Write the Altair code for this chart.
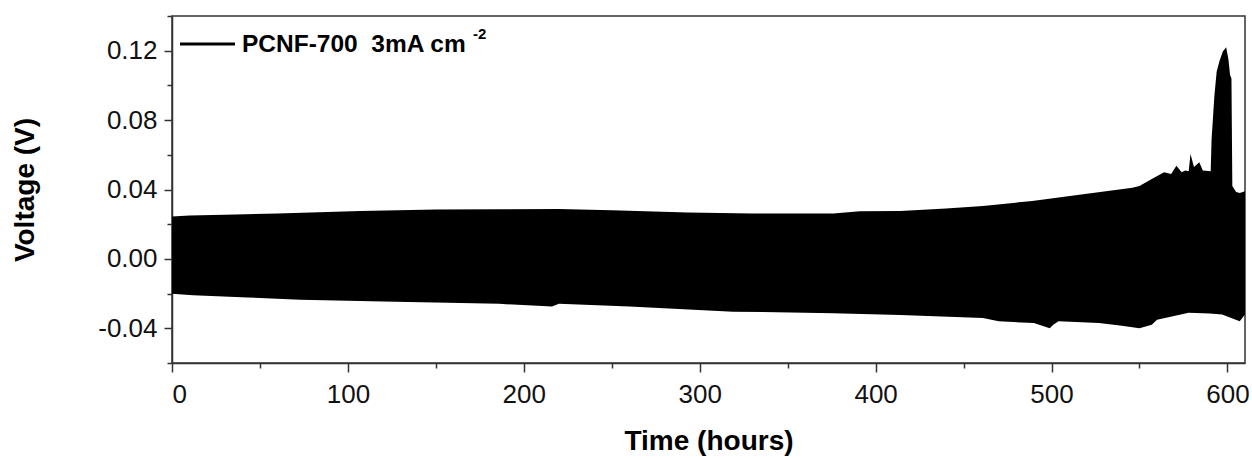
import altair as alt
import pandas as pd

# ---- data (envelope of the voltage profile) ----
upper_time = [0, 10, 30, 60, 107, 150, 186, 220, 250, 293, 330, 376, 391, 414, 440,
              461, 489, 518, 546, 550, 557, 564, 568, 571, 574, 576, 578, 579, 581,
              584, 586, 590.5, 591, 592.6, 593.9, 595.5, 597.4, 599.3, 600.6, 601.5,
              602.3, 602.8, 605, 607, 610]
upper_volt = [0.0245, 0.0250, 0.0255, 0.0262, 0.0276, 0.0285, 0.0286, 0.0288, 0.0280,
              0.0267, 0.0262, 0.0261, 0.0274, 0.0276, 0.0290, 0.0305, 0.0334, 0.0373,
              0.0410, 0.0420, 0.0460, 0.0500, 0.0490, 0.0537, 0.0500, 0.0510, 0.0505,
              0.0605, 0.0530, 0.0557, 0.0510, 0.0505, 0.0690, 0.0940, 0.1080, 0.1140,
              0.1196, 0.1220, 0.1150, 0.1060, 0.1040, 0.0420, 0.0386, 0.0380, 0.0390]

lower_time = [0, 12, 43, 73, 120, 186, 216, 220, 260, 319, 376, 414, 461, 470, 490,
              499, 501, 504, 527, 540, 550, 557, 560, 578, 590, 597, 607, 610]
lower_volt = [-0.0201, -0.0210, -0.0222, -0.0236, -0.0245, -0.0259, -0.0275, -0.0258,
              -0.0275, -0.0304, -0.0313, -0.0323, -0.0340, -0.0360, -0.0370, -0.0400,
              -0.0380, -0.0360, -0.0370, -0.0385, -0.0400, -0.0380, -0.0350, -0.0310,
              -0.0315, -0.0320, -0.0360, -0.0320]

x_major = [0, 100, 200, 300, 400, 500, 600]
x_minor = [50, 150, 250, 350, 450, 550]
y_major = [-0.04, 0.0, 0.04, 0.08, 0.12]
y_minor = [-0.06, -0.02, 0.02, 0.06, 0.10, 0.14]

legend_label = "PCNF-700\u00a0\u00a03mA cm"
legend_sup = "-2"

FONT = "Liberation Sans"
W, H = 1073, 347

up_df = pd.DataFrame({"time": upper_time, "volt": upper_volt})
lo_df = pd.DataFrame({"time": lower_time, "volt": lower_volt})

xscale = alt.Scale(domain=[0, 610], nice=False, zero=False)
yscale = alt.Scale(domain=[-0.06, 0.14], nice=False, zero=False)

ylabel_expr = ("datum.value < 0 ? '-' + format(-datum.value, '.2f') : "
               "format(datum.value, '.2f')")

upper = alt.Chart(up_df).mark_area(color="black", clip=True).encode(
    x=alt.X("time:Q", scale=xscale,
            axis=alt.Axis(orient="bottom", values=x_major, title="Time (hours)",
                          format="d", labelFontSize=26, titleFontSize=28,
                          titleFontWeight="bold", labelFont=FONT, titleFont=FONT,
                          tickSize=9, tickWidth=1.5, domainWidth=1.5,
                          domainColor="#333", tickColor="#333", labelColor="#111",
                          titleColor="black", labelPadding=9, titlePadding=20,
                          grid=False)),
    y=alt.Y("volt:Q", scale=yscale,
            axis=alt.Axis(orient="left", values=y_major, title="Voltage (V)",
                          labelExpr=ylabel_expr, labelFontSize=26, titleFontSize=28,
                          titleFontWeight="bold", labelFont=FONT, titleFont=FONT,
                          tickSize=8, tickWidth=1.5, domainWidth=1.5,
                          domainColor="#333", tickColor="#333", labelColor="#111",
                          titleColor="black", labelPadding=7, titlePadding=58,
                          grid=False)),
    y2=alt.datum(0),
)

lower = alt.Chart(lo_df).mark_area(color="black", clip=True).encode(
    x=alt.X("time:Q", scale=xscale,
            axis=alt.Axis(orient="bottom", values=x_minor, labels=False, title=None,
                          domain=False, tickSize=5, tickWidth=1.5, tickColor="#333",
                          grid=False)),
    y=alt.Y("volt:Q", scale=yscale,
            axis=alt.Axis(orient="left", values=y_minor, labels=False, title=None,
                          domain=False, tickSize=5, tickWidth=1.5, tickColor="#333",
                          grid=False)),
    y2=alt.datum(0),
)

leg_df = pd.DataFrame({"label": [legend_label], "sup": [legend_sup]})
leg_line = alt.Chart(leg_df).mark_rule(color="black", strokeWidth=3).encode(
    x=alt.value(8), x2=alt.value(63), y=alt.value(28))
leg_text = alt.Chart(leg_df).mark_text(
    align="left", baseline="middle", font=FONT, fontSize=24.5, fontWeight="bold",
    color="black").encode(x=alt.value(70), y=alt.value(29), text="label:N")
leg_sup = alt.Chart(leg_df).mark_text(
    align="left", baseline="middle", font=FONT, fontSize=15, fontWeight="bold",
    color="black").encode(x=alt.value(301), y=alt.value(18), text="sup:N")

chart = alt.layer(upper, lower, leg_line, leg_text, leg_sup).resolve_axis(
    x="independent", y="independent"
).properties(
    width=W, height=H,
    autosize=alt.AutoSizeParams(type="none"),
    padding={"left": 172, "top": 16, "right": 7, "bottom": 95},
    background="white",
).configure_view(stroke="#333", strokeWidth=1.5)

chart.save("out.html", embed_options={"renderer": "svg", "actions": False})
